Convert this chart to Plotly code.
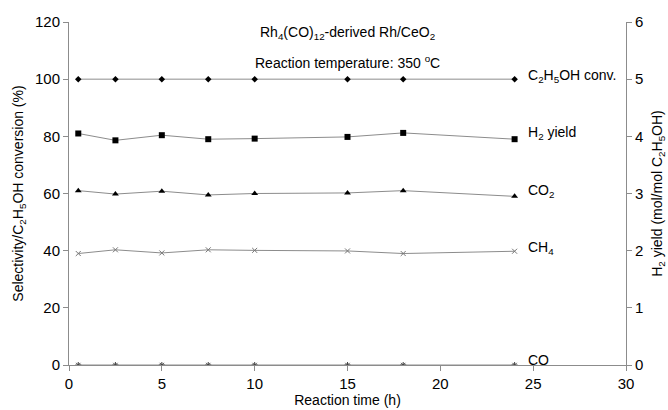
import plotly.graph_objects as go

time_h = [0.5, 2.5, 5, 7.5, 10, 15, 18, 24]
conv = [100, 100, 100, 100, 100, 100, 100, 100]
h2_yield = [4.05, 3.93, 4.02, 3.95, 3.96, 3.99, 4.06, 3.95]
co2 = [61.0, 59.8, 60.8, 59.5, 60.0, 60.2, 61.0, 59.0]
ch4 = [39.0, 40.3, 39.2, 40.3, 40.1, 39.9, 39.0, 39.8]
co = [0, 0, 0, 0, 0, 0, 0, 0]

x_ticks = [0, 5, 10, 15, 20, 25, 30]
y_ticks = [0, 20, 40, 60, 80, 100, 120]
y2_ticks = [0, 1, 2, 3, 4, 5, 6]

FONT = "Liberation Sans, Arial, sans-serif"
line = dict(color="#8c8c8c", width=1)

fig = go.Figure()
fig.add_trace(go.Scatter(x=time_h, y=conv, mode="lines+markers", line=line,
                         marker=dict(symbol="diamond", size=5, color="black")))
fig.add_trace(go.Scatter(x=time_h, y=h2_yield, mode="lines+markers", line=line, yaxis="y2",
                         marker=dict(symbol="square", size=6, color="black")))
fig.add_trace(go.Scatter(x=time_h, y=co2, mode="lines+markers", line=line,
                         marker=dict(symbol="triangle-up", size=6, color="black")))
fig.add_trace(go.Scatter(x=time_h, y=ch4, mode="lines+markers", line=line,
                         marker=dict(symbol="x-thin", size=5, color="#777777",
                                     line=dict(width=1, color="#777777"))))
fig.add_trace(go.Scatter(x=time_h, y=co, mode="lines+markers", line=line,
                         marker=dict(symbol="asterisk", size=5, color="#444444",
                                     line=dict(width=1, color="#444444"))))

labels = [
    (24.6, 100, "C<sub>2</sub>H<sub>5</sub>OH conv."),
    (24.6, 80, "H<sub>2</sub> yield"),
    (24.6, 60, "CO<sub>2</sub>"),
    (24.6, 40, "CH<sub>4</sub>"),
    (24.6, 1.8, "CO"),
]
annotations = [dict(x=x, y=y, xref="x", yref="y", text=t, showarrow=False, xanchor="left",
                    yanchor="middle", yshift=0 if t == "CO" else 3,
                    font=dict(size=14, color="black", family=FONT)) for x, y, t in labels]
annotations += [
    dict(x=0.5, y=116, xref="paper", yref="y", text="Rh<sub>4</sub>(CO)<sub>12</sub>-derived Rh/CeO<sub>2</sub>",
         showarrow=False, font=dict(size=14, color="black", family=FONT)),
    dict(x=0.5, y=106, xref="paper", yref="y", text="Reaction temperature: 350 <sup>o</sup>C",
         showarrow=False, font=dict(size=14, color="black", family=FONT)),
]

axis_common = dict(showgrid=False, zeroline=False, showline=True, linecolor="#8c8c8c",
                   linewidth=1, ticks="outside", ticklen=5, tickcolor="#8c8c8c",
                   automargin=False,
                   tickfont=dict(size=15, color="black", family=FONT))

fig.update_layout(
    width=668, height=410, showlegend=False,
    margin=dict(l=69, r=42, t=22, b=45),
    plot_bgcolor="white", paper_bgcolor="white",
    font=dict(family=FONT, color="black"),
    xaxis=dict(range=[0, 30], tickvals=x_ticks, title=dict(text="Reaction time (h)", standoff=4,
               font=dict(size=14, family=FONT)), **axis_common),
    yaxis=dict(range=[0, 120], tickvals=y_ticks,
               title=dict(text="Selectivity/C<sub>2</sub>H<sub>5</sub>OH conversion (%)", standoff=8,
                          font=dict(size=14, family=FONT)), **axis_common),
    yaxis2=dict(range=[0, 6], tickvals=y2_ticks, overlaying="y", side="right",
                title=dict(text="H<sub>2</sub> yield (mol/mol C<sub>2</sub>H<sub>5</sub>OH)", standoff=9,
                           font=dict(size=14, family=FONT)), **axis_common),
    annotations=annotations,
)
fig.write_html("out.html")
